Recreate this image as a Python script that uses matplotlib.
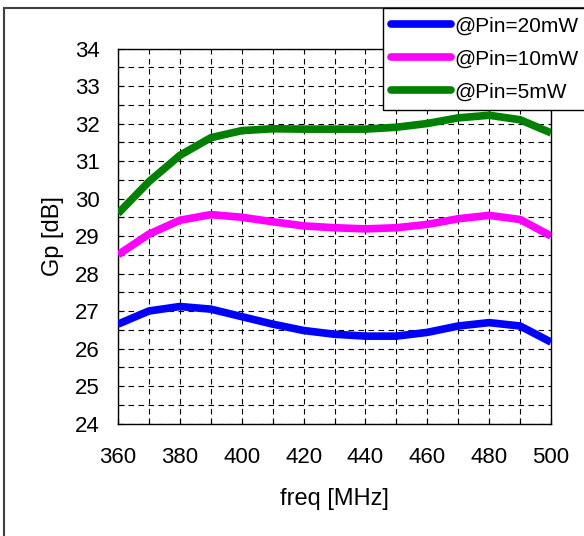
import matplotlib
matplotlib.use("Agg")
import matplotlib.pyplot as plt
from matplotlib.patches import Rectangle
from matplotlib.lines import Line2D
from matplotlib.ticker import MultipleLocator

plt.rcParams['font.family'] = ['Liberation Sans', 'DejaVu Sans']

freq = [360, 370, 380, 390, 400, 410, 420, 430, 440, 450, 460, 470, 480, 490, 500]
gp_20mw = [26.65, 27.0, 27.12, 27.05, 26.85, 26.65, 26.48, 26.38, 26.33, 26.33, 26.43, 26.6, 26.69, 26.6, 26.17]
gp_10mw = [28.5, 29.05, 29.42, 29.57, 29.5, 29.38, 29.27, 29.22, 29.19, 29.22, 29.31, 29.46, 29.55, 29.44, 29.0]
gp_5mw = [29.6, 30.45, 31.15, 31.62, 31.81, 31.86, 31.85, 31.85, 31.85, 31.9, 32.0, 32.15, 32.22, 32.1, 31.75]

series = [
    ("@Pin=20mW", gp_20mw, "#0000ff"),
    ("@Pin=10mW", gp_10mw, "#ff00ff"),
    ("@Pin=5mW", gp_5mw, "#008000"),
]

W, H = 584, 536
fig = plt.figure(figsize=(W / 100, H / 100), dpi=100)
ax = fig.add_axes([118 / W, 1 - 423.5 / H, (551 - 118) / W, (423.5 - 48.5) / H])

handles = []
for label, vals, color in series:
    ax.plot(freq, vals, color=color, lw=5.5, solid_capstyle='butt',
            solid_joinstyle='round', zorder=3)
    handles.append(Line2D([], [], color=color, lw=5.5, solid_capstyle='round', label=label))

ax.set_xlim(360, 500)
ax.set_ylim(24, 34)
ax.xaxis.set_major_locator(MultipleLocator(20))
ax.xaxis.set_minor_locator(MultipleLocator(10))
ax.yaxis.set_major_locator(MultipleLocator(1))
ax.yaxis.set_minor_locator(MultipleLocator(0.5))
ax.grid(which='both', color='black', linestyle=(0, (5, 4)), linewidth=0.8)
ax.tick_params(which='both', direction='in', length=4, width=0.8, color='black')
ax.tick_params(axis='x', which='major', labelsize=16, pad=17)
ax.tick_params(axis='y', which='major', labelsize=16, pad=13)
for s in ax.spines.values():
    s.set_linewidth(1.0)
    s.set_color('black')

ax.set_xlabel("freq [MHz]", fontsize=17, labelpad=14)
ax.set_ylabel("Gp [dB]", fontsize=17, labelpad=8)

# outer frame around the plot area
fig.patches.append(Rectangle((4 / W, -0.1), 1.2, 1 - 8 / H + 0.1,
                             transform=fig.transFigure, fill=False,
                             edgecolor='#404040', linewidth=1.5))

leg = fig.legend(handles=handles, loc='upper left',
                 bbox_to_anchor=(383 / W, 1 - 8 / H), bbox_transform=fig.transFigure,
                 fontsize=15, frameon=True, fancybox=False, edgecolor='black',
                 framealpha=1, handlelength=2.85, handletextpad=0.2,
                 borderpad=0.4, labelspacing=0.68, borderaxespad=0)
leg.get_frame().set_linewidth(1.0)

fig.savefig("out.png", dpi=100)
